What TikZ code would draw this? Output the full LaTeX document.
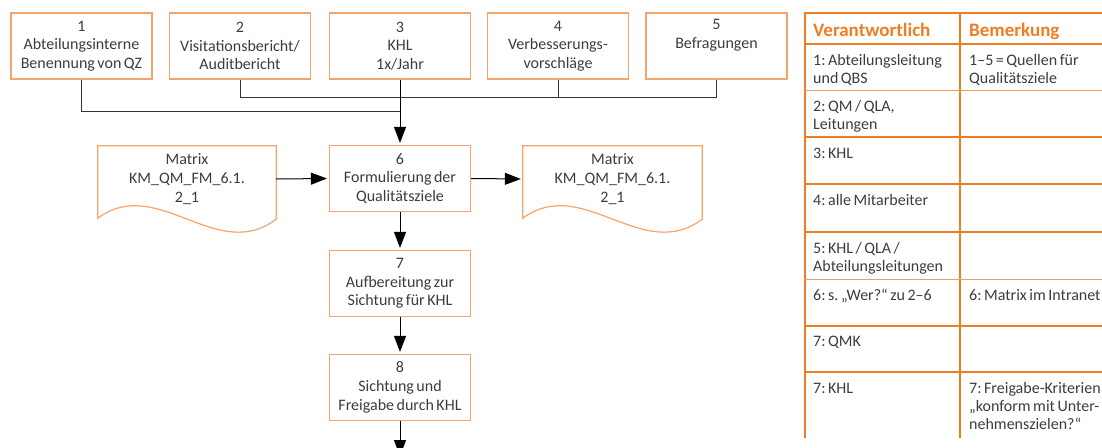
\documentclass[tikz,border=0pt]{standalone}
\usepackage{fontspec}
\setmainfont{Carlito}[WordSpace=0.7]
\usetikzlibrary{arrows.meta}
\frenchspacing

\definecolor{boxorange}{HTML}{F5A46C}
\definecolor{taborange}{HTML}{EF7D22}
\definecolor{txtgray}{HTML}{3C3C3C}
\definecolor{wiregray}{HTML}{333333}

\newcommand\flowfont{\fontsize{16}{18.7}\selectfont}
\newcommand\cellfont{\fontsize{16}{18}\selectfont}
\newcommand\headfont{\fontsize{19}{22}\selectfont\bfseries}

\tikzset{
  stepbox/.style={draw=boxorange, line width=1.2pt, minimum width=141pt,
    minimum height=66pt, inner sep=0pt, align=center, text=txtgray, font=\flowfont},
  docbox/.style={minimum height=66pt, inner sep=0pt, align=center,
    text=txtgray, font=\flowfont},
  docline/.style={draw=boxorange, line width=1.2pt},
  wire/.style={draw=wiregray, line width=0.9pt},
  flowarrow/.style={draw=black, line width=1pt,
    -{Triangle[length=16pt,width=12pt]}, shorten >=2pt},
  cell/.style={anchor=base west, inner sep=0pt, text width=220pt, align=flush left,
    text=txtgray, font=\cellfont},
  headtext/.style={anchor=base west, inner sep=0pt, text=taborange, font=\headfont},
  tabrule/.style={draw=taborange, line width=2pt},
  tabthin/.style={draw=taborange!75, line width=1pt},
}

\begin{document}
\begin{tikzpicture}[x=1pt, y=-1pt]
  \useasboundingbox (0,0) rectangle (1102,447);

  % sources of quality targets
  \node[stepbox] (s1) at (81.5,46) {1\\Abteilungsinterne\\Benennung von QZ};
  \node[stepbox] (s2) at (240,46)  {2\\Visitationsbericht/\\Auditbericht};
  \node[stepbox] (s3) at (400,46)  {3\\KHL\\1x/Jahr};
  \node[stepbox] (s4) at (558,46)  {4\\Verbesserungs-\\vorschläge};
  \node[stepbox] (s5) at (716.5,46) {5\\Befragungen\\\strut};

  % main process steps
  \node[stepbox] (s6) at (400,178.5) {6\\Formulierung der\\Qualitätsziele};
  \node[stepbox] (s7) at (400,283.5) {7\\Aufbereitung zur\\Sichtung für KHL};
  \node[stepbox] (s8) at (400,387.5) {8\\Sichtung und\\Freigabe durch KHL};

  % documents
  \node[docbox, minimum width=178pt] (dl) at (187,179) {Matrix\\KM\_QM\_FM\_6.1.\\2\_1};
  \node[docbox, minimum width=179pt] (dr) at (612.5,179) {Matrix\\KM\_QM\_FM\_6.1.\\2\_1};
  \foreach \d in {dl,dr}{
    \draw[docline] (\d.north west) -- (\d.north east) -- ([yshift=-7pt]\d.south east)
      .. controls ([xshift=-60pt,yshift=-52pt]\d.south east)
      and ([xshift=60pt,yshift=38pt]\d.south west) .. ([yshift=-6pt]\d.south west)
      -- cycle;
  }

  % collecting lines from the sources
  \coordinate (j1) at (400,111);
  \coordinate (j2) at (400,97);
  \draw[wire] (s1.south) |- (j1);
  \draw[wire] (s2.south) |- (j2);
  \draw[wire] (s5.south) |- (j2);
  \draw[wire] (s4.south) -- (s4.south |- j2);
  \draw[flowarrow] (s3.south) -- (s6.north);

  % flow arrows
  \draw[flowarrow] (dl.east) -- (s6.west);
  \draw[flowarrow] (s6.east) -- (dr.west);
  \draw[flowarrow] (s6.south) -- (s7.north);
  \draw[flowarrow] (s7.south) -- (s8.north);
  \coordinate (out) at (400,458);
  \draw[flowarrow] (s8.south) -- (out);

  % responsibility table
  \draw[tabrule] (805,438) -- (805,13) -- (1110,13);
  \draw[tabrule] (960,13) -- (960,438);
  \draw[tabrule] (805,44) -- (1110,44);
  \draw[tabthin] (805,90.7) -- (1110,90.7);
  \draw[tabrule] (805,137) -- (1110,137);
  \draw[tabrule] (805,184) -- (1110,184);
  \draw[tabrule] (805,232) -- (1110,232);
  \draw[tabthin] (805,279) -- (1110,279);
  \draw[tabrule] (805,325.7) -- (1110,325.7);
  \draw[tabrule] (805,372) -- (1110,372);

  \node[headtext] (h1) at (813,36) {Verantwortlich};
  \node[headtext] (h2) at (969,36) {Bemerkung};

  \node[cell] (v1) at (813,65.5)  {1: Abteilungsleitung\\und QBS};
  \node[cell] (v2) at (813,111.5) {2: QM / QLA,\\Leitungen};
  \node[cell] (v3) at (813,158)   {3: KHL};
  \node[cell] (v4) at (813,205)   {4: alle Mitarbeiter};
  \node[cell] (v5) at (813,253)   {5: KHL / QLA /\\Abteilungsleitungen};
  \node[cell] (v6) at (813,300)   {6: s.\,„Wer?“ zu 2–6};
  \node[cell] (v7) at (813,346.5) {7: QMK};
  \node[cell] (v8) at (813,393)   {7: KHL};

  \node[cell] (b1) at (969,65.5) {1–5 = Quellen für\\Qualitätsziele};
  \node[cell] (b6) at (969,300)  {6: Matrix im Intranet};
  \node[cell] (b8) at (969,393)  {7: Freigabe-Kriterien:\\„konform mit Unter-\\nehmenszielen?“};
\end{tikzpicture}
\end{document}
